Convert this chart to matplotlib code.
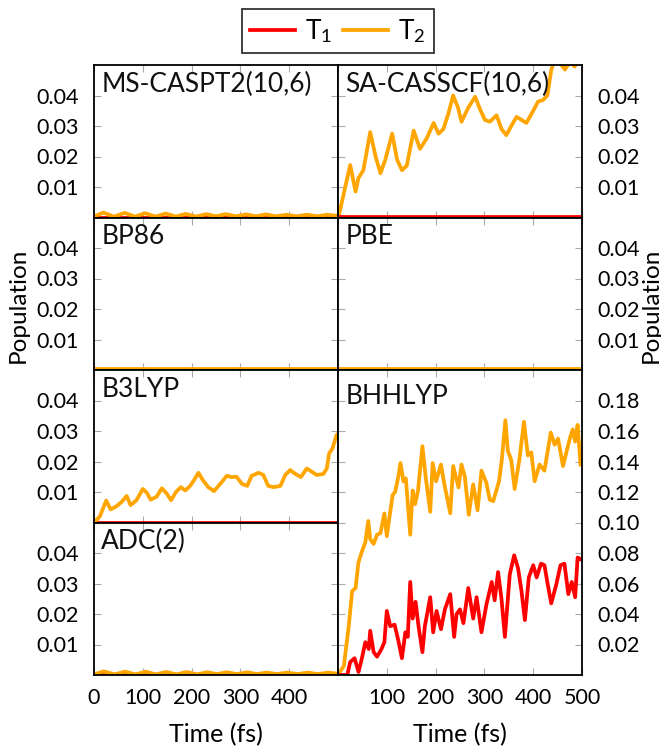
import matplotlib
matplotlib.use('Agg')
import matplotlib.pyplot as plt
from matplotlib.lines import Line2D

plt.rcParams['font.family'] = ['Lato', 'DejaVu Sans']
plt.rcParams['mathtext.fontset'] = 'custom'
plt.rcParams['mathtext.rm'] = 'Lato'
plt.rcParams['mathtext.it'] = 'Lato:italic'

RED = '#ff0000'
ORANGE = '#ffa500'

# MS-CASPT2(10,6)
caspt2_t = [0, 19, 41, 63, 84, 105, 126, 147, 168, 188, 209, 230, 250, 270, 291,
            312, 332, 352, 373, 395, 415, 436, 457, 478, 500]
caspt2_t2 = [0.0003, 0.0016, 0.0003, 0.0015, 0.0003, 0.0014, 0.0003, 0.0013, 0.0003,
             0.0012, 0.0003, 0.0011, 0.0004, 0.0011, 0.0004, 0.0010, 0.0004, 0.0010,
             0.0004, 0.0009, 0.0004, 0.0009, 0.0004, 0.0009, 0.0005]

# ADC(2)
adc_t = [0, 20, 42, 64, 85, 106, 127, 148, 169, 190, 211, 232, 252, 272, 293,
         314, 334, 354, 375, 396, 417, 438, 459, 480, 500]
adc_t2 = [0.0002, 0.0012, 0.0002, 0.0011, 0.0002, 0.0011, 0.0002, 0.0010, 0.0002,
          0.0010, 0.0002, 0.0009, 0.0003, 0.0009, 0.0003, 0.0009, 0.0003, 0.0008,
          0.0003, 0.0008, 0.0003, 0.0008, 0.0003, 0.0008, 0.0004]

# SA-CASSCF(10,6)
casscf_t = [0, 2, 12, 25, 36, 42, 52, 66, 77, 87, 97, 111, 121, 131, 141, 155, 168,
            182, 196, 206, 216, 226, 236, 246, 253, 267, 281, 291, 301, 311, 325, 335,
            345, 355, 366, 376, 386, 400, 410, 420, 429, 437, 444, 458, 465, 475, 485,
            495, 500]
casscf_t2 = [0.0, 0.0008, 0.008, 0.0172, 0.0085, 0.013, 0.0155, 0.028, 0.020, 0.0145,
             0.019, 0.0275, 0.019, 0.0155, 0.017, 0.0285, 0.0225, 0.026, 0.031, 0.0275,
             0.029, 0.034, 0.040, 0.036, 0.0314, 0.036, 0.0396, 0.0355, 0.032, 0.0314,
             0.0335, 0.029, 0.027, 0.030, 0.033, 0.032, 0.031, 0.035, 0.038, 0.0385,
             0.040, 0.0484, 0.052, 0.050, 0.0485, 0.051, 0.0495, 0.052, 0.051]

# B3LYP
b3lyp_t = [0, 2, 12, 25, 34, 45, 57, 67, 75, 87, 100, 108, 116, 128, 139, 149, 158,
           168, 178, 187, 197, 205, 214, 223, 234, 246, 259, 272, 282, 292, 303, 314,
           323, 337, 347, 357, 368, 382, 392, 402, 412, 424, 436, 446, 456, 470, 477,
           482, 489, 497, 500]
b3lyp_t2 = [0.0, 0.0003, 0.002, 0.0072, 0.0043, 0.0052, 0.0068, 0.0087, 0.0057, 0.0073,
            0.011, 0.0098, 0.0075, 0.0084, 0.0112, 0.0095, 0.0073, 0.010, 0.0116, 0.0105,
            0.012, 0.0139, 0.0163, 0.0139, 0.0116, 0.0103, 0.0127, 0.0153, 0.0149, 0.015,
            0.0127, 0.012, 0.0153, 0.0163, 0.0156, 0.012, 0.0116, 0.012, 0.0156, 0.0172,
            0.016, 0.0149, 0.0177, 0.0167, 0.0156, 0.0159, 0.0177, 0.0227, 0.0244, 0.0287,
            0.029]

# BP86 / PBE
flat_t = [0, 500]
bp86_t2 = [0.0002, 0.0002]
pbe_t2 = [0.0002, 0.0002]
zero_t1 = [0.0, 0.0]
casscf_t1 = [0.0003, 0.0003]

# BHHLYP
bhh_t2_t = [0, 12, 22, 29, 36, 42, 49, 56, 62, 66, 73, 80, 87, 95, 100, 107, 112, 117,
            123, 128, 134, 139, 148, 153, 158, 164, 173, 180, 189, 194, 201, 211, 218,
            230, 236, 247, 253, 260, 268, 277, 286, 294, 304, 311, 318, 330, 336, 343,
            348, 355, 362, 372, 381, 389, 396, 403, 413, 423, 436, 444, 451, 461, 468,
            475, 481, 486, 491, 497]
bhh_t2 = [0.0, 0.006, 0.032, 0.055, 0.057, 0.074, 0.081, 0.087, 0.101, 0.089, 0.086,
          0.092, 0.093, 0.106, 0.091, 0.107, 0.118, 0.120, 0.129, 0.139, 0.127, 0.129,
          0.092, 0.121, 0.112, 0.121, 0.150, 0.129, 0.107, 0.139, 0.127, 0.138, 0.125,
          0.106, 0.137, 0.123, 0.138, 0.130, 0.105, 0.125, 0.108, 0.134, 0.126, 0.115,
          0.114, 0.127, 0.142, 0.167, 0.147, 0.141, 0.122, 0.142, 0.166, 0.144, 0.146,
          0.127, 0.138, 0.134, 0.159, 0.151, 0.155, 0.137, 0.146, 0.155, 0.161, 0.153,
          0.164, 0.138]
bhh_t1_t = [0, 19, 25, 34, 42, 49, 56, 63, 66, 73, 80, 89, 95, 100, 107, 116, 124, 131,
            138, 143, 148, 153, 159, 165, 173, 178, 189, 195, 202, 211, 219, 230, 238,
            243, 250, 257, 267, 277, 284, 294, 304, 315, 321, 328, 335, 342, 352, 361,
            369, 376, 383, 391, 400, 407, 416, 423, 430, 437, 447, 456, 464, 472, 479,
            486, 491, 497]
bhh_t1 = [0.0, 0.0, 0.0085, 0.011, 0.002, 0.011, 0.0215, 0.017, 0.029, 0.015, 0.012,
          0.017, 0.0215, 0.042, 0.032, 0.033, 0.022, 0.011, 0.028, 0.025, 0.061, 0.037,
          0.048, 0.032, 0.015, 0.032, 0.051, 0.028, 0.042, 0.030, 0.043, 0.053, 0.025,
          0.040, 0.043, 0.034, 0.057, 0.037, 0.051, 0.028, 0.046, 0.061, 0.049, 0.0675,
          0.050, 0.025, 0.066, 0.0785, 0.070, 0.055, 0.036, 0.064, 0.072, 0.064, 0.073,
          0.072, 0.059, 0.047, 0.059, 0.072, 0.073, 0.053, 0.061, 0.051, 0.077, 0.076]

W, H = 661, 746
fig = plt.figure(figsize=(W / 100, H / 100), dpi=100)


def make_ax(x0, top, bottom):
    return fig.add_axes([x0 / W, 1 - bottom / H, 244 / W, (bottom - top) / H])


def style(ax, label, ylim, yticks, side, xlabels=None):
    ax.set_xlim(0, 500)
    ax.set_ylim(*ylim)
    ax.set_xticks([0, 100, 200, 300, 400, 500])
    ax.set_yticks(yticks)
    ax.tick_params(direction='in', length=5, width=0.8, color='#aaaaaa',
                   top=True, right=True, bottom=True, left=True, labelsize=15.5)
    ax.tick_params(axis='y', pad=11)
    ax.tick_params(axis='x', pad=9)
    ax.set_yticklabels(['%.2f' % v for v in yticks])
    if side == 'right':
        ax.yaxis.tick_right()
        ax.tick_params(axis='y', left=True, right=True)
    if xlabels is None:
        ax.set_xticklabels([])
    else:
        ax.set_xticklabels(xlabels)
    for s in ax.spines.values():
        s.set_color('black')
        s.set_linewidth(1.3)
    ax.text(0.03, 0.955, label, transform=ax.transAxes, fontsize=19,
            va='top', ha='left', color='#111111')


small = (0, 0.05)
small_ticks = [0.01, 0.02, 0.03, 0.04]
lw = 2.7

ax = make_ax(94, 65, 217.5)
ax.plot(flat_t, zero_t1, color=RED, lw=lw)
ax.plot(caspt2_t, caspt2_t2, color=ORANGE, lw=lw)
style(ax, 'MS-CASPT2(10,6)', small, small_ticks, 'left')

ax = make_ax(94, 217.5, 370)
ax.plot(flat_t, zero_t1, color=RED, lw=lw)
ax.plot(flat_t, bp86_t2, color=ORANGE, lw=lw)
style(ax, 'BP86', small, small_ticks, 'left')

ax = make_ax(94, 370, 522.5)
ax.plot(flat_t, zero_t1, color=RED, lw=lw)
ax.plot(b3lyp_t, b3lyp_t2, color=ORANGE, lw=lw)
style(ax, 'B3LYP', small, small_ticks, 'left')

ax = make_ax(94, 522.5, 675)
ax.plot(flat_t, zero_t1, color=RED, lw=lw)
ax.plot(adc_t, adc_t2, color=ORANGE, lw=lw)
style(ax, 'ADC(2)', small, small_ticks, 'left',
      xlabels=['0', '100', '200', '300', '400', ''])

ax = make_ax(338, 65, 217.5)
ax.plot(casscf_t, casscf_t2, color=ORANGE, lw=lw)
ax.plot(flat_t, casscf_t1, color=RED, lw=lw)
style(ax, 'SA-CASSCF(10,6)', small, small_ticks, 'right')

ax = make_ax(338, 217.5, 370)
ax.plot(flat_t, zero_t1, color=RED, lw=lw)
ax.plot(flat_t, pbe_t2, color=ORANGE, lw=lw)
style(ax, 'PBE', small, small_ticks, 'right')

ax = make_ax(338, 370, 675)
ax.plot(bhh_t2_t, bhh_t2, color=ORANGE, lw=lw)
ax.plot(bhh_t1_t, bhh_t1, color=RED, lw=lw)
style(ax, 'BHHLYP', (0, 0.2), [0.02, 0.04, 0.06, 0.08, 0.10, 0.12, 0.14, 0.16, 0.18],
      'right', xlabels=['', '100', '200', '300', '400', '500'])

fig.text(216 / W, 1 - 735 / H, 'Time (fs)', ha='center', va='center', fontsize=18)
fig.text(460 / W, 1 - 735 / H, 'Time (fs)', ha='center', va='center', fontsize=18)
fig.text(18 / W, 1 - 305 / H, 'Population', rotation=90, ha='center', va='center', fontsize=17.5)
fig.text(651 / W, 1 - 305 / H, 'Population', rotation=90, ha='center', va='center', fontsize=17.5)

handles = [Line2D([], [], color=RED, lw=2.7), Line2D([], [], color=ORANGE, lw=2.7)]
leg = fig.legend(handles, ['T$_1$', 'T$_2$'], loc='upper center', ncol=2,
                 bbox_to_anchor=(0.511, 1 - 9 / H), fontsize=19, frameon=True,
                 fancybox=False, edgecolor='black', handlelength=1.7,
                 handletextpad=0.4, columnspacing=0.4, borderpad=0.3,
                 borderaxespad=0)
leg.get_frame().set_linewidth(1.3)

fig.savefig('out.png', dpi=100)
